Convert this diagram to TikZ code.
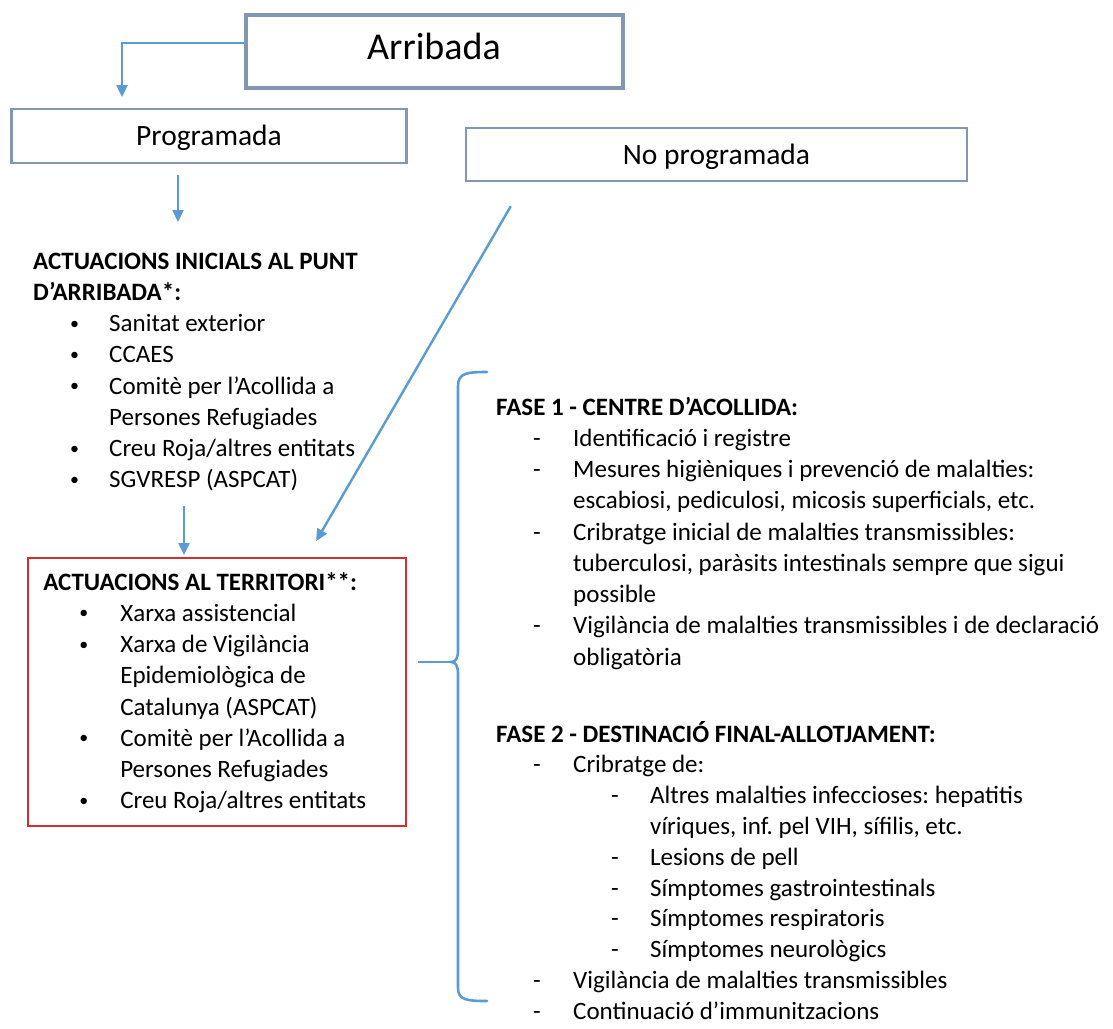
\documentclass[tikz,border=0pt]{standalone}
\usepackage{fontspec}
\setmainfont{Carlito}
\usetikzlibrary{arrows.meta,positioning}
\definecolor{linkblue}{RGB}{91,155,213}
\definecolor{slate}{RGB}{132,151,176}
\definecolor{boxred}{RGB}{214,45,50}
\newcommand{\listdot}{\raisebox{2.5pt}{\fontsize{18}{18}\selectfont •}}
\frenchspacing

\begin{document}
\begin{tikzpicture}[x=1pt, y=-1pt,
  stage/.style={draw=slate, line width=2.5pt, font=\fontsize{29.5}{36}\selectfont, text height=25pt, text depth=6pt},
  mainstage/.style={stage, line width=4pt, font=\fontsize{38}{46}\selectfont, text height=30pt, text depth=15pt},
  redframe/.style={draw=boxred, line width=1.8pt},
  listblock/.style={font=\fontsize{25}{31.25}\selectfont, inner sep=0pt, anchor=base west},
  link/.style={draw=linkblue, line width=2.4pt},
  arrow/.style={link, -{Triangle[length=12pt, width=11pt]}},
  brace/.style={draw=linkblue, line width=2.6pt, line cap=round}
]
  \useasboundingbox (0,0) rectangle (1113,1028);

  % Arrival boxes
  \node[mainstage, minimum width=377pt, minimum height=73pt] (arribada) at (434,51.5) {Arribada};
  \node[stage, minimum width=395pt, minimum height=54pt] (prog) at (209,136) {Programada};
  \node[stage, minimum width=501pt, minimum height=53pt] (noprog) at (716.5,154.5) {No programada};

  % Lists on the left
  \node[listblock] (inicials) at (33,269) {\begin{tabular}[t]{@{}p{37pt}@{}p{39pt}@{}l@{}}
    \multicolumn{3}{@{}l@{}}{\bfseries ACTUACIONS INICIALS AL PUNT}\\
    \multicolumn{3}{@{}l@{}}{\bfseries D’ARRIBADA*:}\\
    & \listdot & Sanitat exterior\\
    & \listdot & CCAES\\
    & \listdot & Comitè per l’Acollida a\\
    & & Persones Refugiades\\
    & \listdot & Creu Roja/altres entitats\\
    & \listdot & SGVRESP (ASPCAT)
  \end{tabular}};

  \node[redframe, minimum width=378pt, minimum height=268pt] (terr) at (217,692) {};
  \node[listblock] (terrlist) at ([xshift=16pt, yshift=-33pt]terr.north west) {\begin{tabular}[t]{@{}p{36pt}@{}p{41pt}@{}l@{}}
    \multicolumn{3}{@{}l@{}}{\bfseries ACTUACIONS AL TERRITORI**:}\\
    & \listdot & Xarxa assistencial\\
    & \listdot & Xarxa de Vigilància\\
    & & Epidemiològica de\\
    & & Catalunya (ASPCAT)\\
    & \listdot & Comitè per l’Acollida a\\
    & & Persones Refugiades\\
    & \listdot & Creu Roja/altres entitats
  \end{tabular}};

  % Phases on the right
  \node[listblock] (fase1) at (496,415) {\begin{tabular}[t]{@{}p{37pt}@{}p{40pt}@{}l@{}}
    \multicolumn{3}{@{}l@{}}{\bfseries FASE 1 - CENTRE D’ACOLLIDA:}\\
    & - & Identificació i registre\\
    & - & Mesures higièniques i prevenció de malalties:\\
    & & escabiosi, pediculosi, micosis superficials, etc.\\
    & - & Cribratge inicial de malalties transmissibles:\\
    & & tuberculosi, paràsits intestinals sempre que sigui\\
    & & possible\\
    & - & Vigilància de malalties transmissibles i de declaració\\
    & & obligatòria
  \end{tabular}};

  \node[listblock, font=\fontsize{25}{30.8}\selectfont] (fase2) at (496,742) {\begin{tabular}[t]{@{}p{37pt}@{}p{40pt}@{}l@{}}
    \multicolumn{3}{@{}l@{}}{\bfseries FASE 2 - DESTINACIÓ FINAL-ALLOTJAMENT:}\\
    & - & Cribratge de:\\
    & & \hspace*{38pt}\makebox[39pt][l]{-}Altres malalties infeccioses: hepatitis\\
    & & \hspace*{77pt}víriques, inf. pel VIH, sífilis, etc.\\
    & & \hspace*{38pt}\makebox[39pt][l]{-}Lesions de pell\\
    & & \hspace*{38pt}\makebox[39pt][l]{-}Símptomes gastrointestinals\\
    & & \hspace*{38pt}\makebox[39pt][l]{-}Símptomes respiratoris\\
    & & \hspace*{38pt}\makebox[39pt][l]{-}Símptomes neurològics\\
    & - & Vigilància de malalties transmissibles\\
    & - & Continuació d’immunitzacions
  \end{tabular}};

  % Brace
  \coordinate (bracetip) at (451,662);
  \draw[brace] (487,372) .. controls (467,372) and (458,373) .. (458,386) -- (458,650)
    .. controls (458,658) and (456,662) .. (bracetip)
    .. controls (456,662) and (458,666) .. (458,674) -- (458,988)
    .. controls (458,1000) and (467,1001) .. (487,1001);

  % Arrows
  \coordinate (tip1) at (122,97);
  \coordinate (tip2) at (178,222);
  \coordinate (tip3) at (184,555);
  \draw[arrow] ([yshift=8.5pt]arribada.west) -| (tip1);
  \draw[arrow] ([yshift=-11pt]prog.south -| tip2) -- (tip2);
  \draw[arrow] ([yshift=-9pt]inicials.south -| tip3) -- (tip3);
  \draw[arrow] ([xshift=46pt, yshift=-24pt]noprog.south west) -- ([xshift=289pt, yshift=16pt]terr.north west);
  \draw[link, shorten <=11pt] (terr.east |- bracetip) -- (bracetip);

\end{tikzpicture}
\end{document}
